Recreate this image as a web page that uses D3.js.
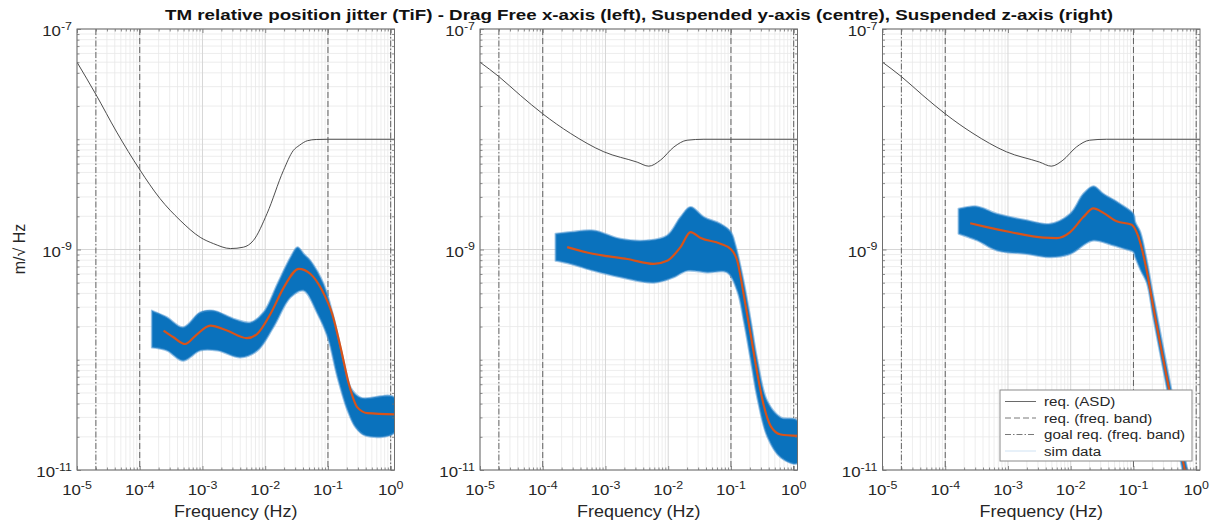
<!DOCTYPE html>
<html>
<head>
<meta charset="utf-8">
<script src="https://cdn.jsdelivr.net/npm/d3@7"></script>
<style>
  body { margin: 0; background: #fff; }
  svg { display: block; font-family: "Liberation Sans", Arial, sans-serif; }
</style>
</head>
<body>
<svg id="chart" width="1214" height="521"></svg>
<script>
// --- data (frequency in Hz, ASD in m/sqrt(Hz)) ---
const xTickExps = [-5, -4, -3, -2, -1, 0];
const yTickExps = [-11, -9, -7];
const reqBandFreqs = [1e-4, 1e-1];
const goalBandFreqs = [2e-5, 1];
const legendLabels = ['req. (ASD)', 'req. (freq. band)', 'goal req. (freq. band)', 'sim data'];

// requirement, drag free axis (left)
const reqDfFreq = [1e-5, 2e-5, 4.3e-5, 1e-4, 2.1e-4, 4.4e-4, 9.2e-4, 1.5e-3, 2.8e-3, 4.5e-3, 6.5e-3, 1.07e-2, 1.95e-2, 2.8e-2, 3.5e-2, 4.7e-2, 6.5e-2, 0.1, 1.15];
const reqDfAsd  = [5.0e-8, 2.55e-8, 1.16e-8, 5.3e-9, 2.9e-9, 1.84e-9, 1.29e-9, 1.13e-9, 1.02e-9, 1.05e-9, 1.21e-9, 2.12e-9, 5.2e-9, 7.9e-9, 8.8e-9, 9.7e-9, 9.95e-9, 1e-8, 1e-8];
// requirement, suspended axes (centre, right)
const reqSuspFreq = [1e-5, 2e-5, 4.4e-5, 1e-4, 2.77e-4, 9.4e-4, 3.2e-3, 4.9e-3, 7.5e-3, 1.23e-2, 2.0e-2, 3.7e-2, 1.15];
const reqSuspAsd  = [5.0e-8, 3.7e-8, 2.5e-8, 1.7e-8, 1.13e-8, 7.7e-9, 6.2e-9, 5.7e-9, 6.45e-9, 8.5e-9, 9.8e-9, 1e-8, 1e-8];

// x-axis sim: mean and envelope of the runs
const xMeanFreq  = [2.4e-4, 3.45e-4, 5.3e-4, 7.7e-4, 1.33e-3, 2.46e-3, 5.1e-3, 7.4e-3, 1.21e-2, 1.98e-2, 3.43e-2, 5.27e-2, 8.1e-2, 0.117, 0.159, 0.216, 0.294, 0.425, 1.15];
const xMeanAsd   = [1.84e-10, 1.6e-10, 1.39e-10, 1.65e-10, 2.04e-10, 1.84e-10, 1.57e-10, 1.71e-10, 2.6e-10, 4.54e-10, 6.68e-10, 6.0e-10, 4.24e-10, 2.6e-10, 1.29e-10, 6.0e-11, 3.7e-11, 3.28e-11, 3.2e-11];
const xUpperFreq = [1.56e-4, 2.7e-4, 4.9e-4, 9.2e-4, 1.49e-3, 3.1e-3, 5.8e-3, 9.4e-3, 1.57e-2, 2.53e-2, 3.27e-2, 4.2e-2, 5.27e-2, 8.5e-2, 0.123, 0.177, 0.23, 0.332, 1.15];
const xUpperAsd  = [2.79e-10, 2.43e-10, 1.97e-10, 2.69e-10, 2.79e-10, 2.36e-10, 2.18e-10, 2.69e-10, 4.9e-10, 8.5e-10, 1.05e-9, 9.0e-10, 7.9e-10, 4.9e-10, 2.43e-10, 9.8e-11, 5.6e-11, 4.54e-11, 4.54e-11];
const xLowerFreq = [1.56e-4, 2.7e-4, 4.9e-4, 9.2e-4, 1.72e-3, 4.0e-3, 7.5e-3, 1.35e-2, 2.53e-2, 4.07e-2, 6.8e-2, 9.9e-2, 0.142, 0.206, 0.276, 0.4, 1.15];
const xLowerAsd  = [1.29e-10, 1.21e-10, 9.8e-11, 1.21e-10, 1.21e-10, 1.05e-10, 1.21e-10, 1.97e-10, 3.68e-10, 4.24e-10, 2.62e-10, 1.6e-10, 6.9e-11, 3.44e-11, 2.43e-11, 2.04e-11, 2.18e-11];

// y-axis sim
const yMeanFreq  = [2.45e-4, 5.1e-4, 9.4e-4, 2.22e-3, 5.9e-3, 9.6e-3, 1.57e-2, 2.27e-2, 3.3e-2, 6.8e-2, 9.9e-2, 0.126, 0.161, 0.206, 0.263, 0.335, 0.43, 0.62, 1.15];
const yMeanAsd   = [1.05e-9, 9.4e-10, 8.8e-10, 8.2e-10, 7.4e-10, 7.9e-10, 1.05e-9, 1.44e-9, 1.27e-9, 1.13e-9, 1.01e-9, 7.9e-10, 3.8e-10, 1.7e-10, 7.5e-11, 3.8e-11, 2.5e-11, 2.1e-11, 2.04e-11];
const yUpperFreq = [1.6e-4, 2.77e-4, 6.5e-4, 1.73e-3, 4.6e-3, 9.6e-3, 1.57e-2, 2.27e-2, 3.7e-2, 6.8e-2, 9.9e-2, 0.118, 0.161, 0.206, 0.263, 0.38, 0.62, 1.15];
const yUpperAsd  = [1.39e-9, 1.44e-9, 1.49e-9, 1.25e-9, 1.21e-9, 1.34e-9, 1.97e-9, 2.43e-9, 1.97e-9, 1.71e-9, 1.45e-9, 1.1e-9, 5.0e-10, 2.3e-10, 1.0e-10, 4.2e-11, 3.0e-11, 2.8e-11];
const yLowerFreq = [1.6e-4, 2.77e-4, 6.5e-4, 1.73e-3, 5.9e-3, 1.23e-2, 2.0e-2, 4.2e-2, 8.7e-2, 0.126, 0.161, 0.206, 0.263, 0.38, 0.62, 1.15];
const yLowerAsd  = [7.9e-10, 7.4e-10, 6.4e-10, 5.6e-10, 5.0e-10, 5.6e-10, 6.4e-10, 6.2e-10, 6.2e-10, 4.2e-10, 2.2e-10, 1.0e-10, 4.5e-11, 2.0e-11, 1.3e-11, 1.15e-11];

// z-axis sim
const zMeanFreq  = [2.5e-4, 4.07e-4, 1.08e-3, 3.67e-3, 6.0e-3, 9.8e-3, 1.59e-2, 2.3e-2, 3.32e-2, 5.4e-2, 9.4e-2, 0.1, 0.12, 0.163, 0.207, 0.383, 0.624, 1.15];
const zMeanAsd   = [1.73e-9, 1.62e-9, 1.44e-9, 1.28e-9, 1.27e-9, 1.44e-9, 1.97e-9, 2.36e-9, 2.15e-9, 1.8e-9, 1.68e-9, 1.62e-9, 1.3e-9, 6.4e-10, 3.0e-10, 4.9e-11, 1.16e-11, 2.1e-12];
const zUpperFreq = [1.63e-4, 3.2e-4, 6.65e-4, 2.0e-3, 4.7e-3, 9.8e-3, 1.59e-2, 2.3e-2, 3.32e-2, 6.1e-2, 0.1, 0.107, 0.128, 0.163, 0.207, 0.383, 0.624, 1.15];
const zUpperAsd  = [2.34e-9, 2.46e-9, 2.11e-9, 1.84e-9, 1.71e-9, 2.11e-9, 3.2e-9, 3.75e-9, 3.2e-9, 2.6e-9, 2.1e-9, 1.77e-9, 1.45e-9, 8e-10, 3.8e-10, 6.2e-11, 1.5e-11, 2.8e-12];
const zLowerFreq = [1.63e-4, 3.2e-4, 6.65e-4, 2.0e-3, 4.7e-3, 9.8e-3, 2.2e-2, 4.5e-2, 7.8e-2, 0.1, 0.107, 0.13, 0.163, 0.207, 0.383, 0.624, 1.15];
const zLowerAsd  = [1.39e-9, 1.21e-9, 9.8e-10, 9.1e-10, 8.5e-10, 9.1e-10, 1.2e-9, 1.1e-9, 1.0e-9, 9.5e-10, 8.5e-10, 6.5e-10, 5e-10, 2.4e-10, 3.9e-11, 9e-12, 1.6e-12];

// --- layout ---
const panelLefts = [77, 480, 882.5];
const panelW = 317.5;
const plotTop = 29, plotBottom = 470;
const xMin = 1e-5, xMax = 1.15;
const SX = 1.12; // the picture is a little wider than tall
const axisColor = '#6e6e6e';
const textColor = '#262626';

const zip = (a, b) => a.map((v, i) => [v, b[i]]);

const panels = [
  { req: zip(reqDfFreq, reqDfAsd), mean: zip(xMeanFreq, xMeanAsd), upper: zip(xUpperFreq, xUpperAsd), lower: zip(xLowerFreq, xLowerAsd) },
  { req: zip(reqSuspFreq, reqSuspAsd), mean: zip(yMeanFreq, yMeanAsd), upper: zip(yUpperFreq, yUpperAsd), lower: zip(yLowerFreq, yLowerAsd) },
  { req: zip(reqSuspFreq, reqSuspAsd), mean: zip(zMeanFreq, zMeanAsd), upper: zip(zUpperFreq, zUpperAsd), lower: zip(zLowerFreq, zLowerAsd) }
];

const svg = d3.select('#chart');
const y = d3.scaleLog().domain([1e-11, 1e-7]).range([plotBottom, plotTop]);

// minor values 2..9 x 10^e
function minorVals(eLo, eHi, max) {
  const out = [];
  for (let e = eLo; e <= eHi; e++) for (let k = 2; k <= 9; k++) if (k * 10 ** e <= max) out.push(k * 10 ** e);
  return out;
}
const xMajor = xTickExps.map(e => 10 ** e);
const xMinor = minorVals(-5, 0, xMax);
const yMajor = yTickExps.map(e => 10 ** e);
const yMinor = minorVals(-11, -8, 1e-7).concat([1e-10, 1e-8]);

// 10^e label, stretched like the picture
function powLabel(g, px, py, e, anchor, size) {
  const t = g.append('g')
    .attr('transform', `translate(${px},${py}) scale(${SX},1)`)
    .append('text')
    .attr('text-anchor', anchor)
    .attr('font-size', size)
    .attr('fill', textColor);
  t.append('tspan').text('10');
  t.append('tspan').attr('dy', -6.5).attr('font-size', size * 0.74).text(e < 0 ? '-' + (-e) : e);
}

function stretchedText(g, px, py, str, size, anchor) {
  return g.append('g')
    .attr('transform', `translate(${px},${py}) scale(${SX},1)`)
    .append('text')
    .attr('text-anchor', anchor || 'middle')
    .attr('font-size', size)
    .attr('fill', textColor)
    .text(str);
}

panels.forEach((p, i) => {
  const left = panelLefts[i];
  const x = d3.scaleLog().domain([xMin, xMax]).range([left, left + panelW]);
  const g = svg.append('g');

  g.append('clipPath').attr('id', 'clip' + i)
    .append('rect').attr('x', left).attr('y', plotTop).attr('width', panelW).attr('height', plotBottom - plotTop);

  // grid
  const grid = g.append('g');
  grid.selectAll('.xmin').data(xMinor).join('line')
    .attr('x1', d => x(d)).attr('x2', d => x(d)).attr('y1', plotTop).attr('y2', plotBottom)
    .attr('stroke', '#e9e9e9').attr('stroke-width', 0.8);
  grid.selectAll('.ymin').data(yMinor).join('line')
    .attr('x1', left).attr('x2', left + panelW).attr('y1', d => y(d)).attr('y2', d => y(d))
    .attr('stroke', '#e9e9e9').attr('stroke-width', 0.8);
  grid.selectAll('.xmaj').data(xMajor).join('line')
    .attr('x1', d => x(d)).attr('x2', d => x(d)).attr('y1', plotTop).attr('y2', plotBottom)
    .attr('stroke', '#d6d6d6').attr('stroke-width', 1);
  grid.selectAll('.ymaj').data(yMajor).join('line')
    .attr('x1', left).attr('x2', left + panelW).attr('y1', d => y(d)).attr('y2', d => y(d))
    .attr('stroke', '#d6d6d6').attr('stroke-width', 1);

  const plot = g.append('g').attr('clip-path', `url(#clip${i})`);

  // requirement ASD
  const line = d3.line().x(d => x(d[0])).y(d => y(d[1])).curve(d3.curveMonotoneX);
  plot.append('path').datum(p.req).attr('d', line)
    .attr('fill', 'none').attr('stroke', '#3a3a3a').attr('stroke-width', 0.9);

  // frequency band limits
  plot.selectAll('.req').data(reqBandFreqs).join('line')
    .attr('x1', d => x(d)).attr('x2', d => x(d)).attr('y1', plotTop).attr('y2', plotBottom)
    .attr('stroke', '#555').attr('stroke-width', 0.9).attr('stroke-dasharray', '6,3');
  plot.selectAll('.goal').data(goalBandFreqs).join('line')
    .attr('x1', d => x(d)).attr('x2', d => x(d)).attr('y1', plotTop).attr('y2', plotBottom)
    .attr('stroke', '#555').attr('stroke-width', 0.9).attr('stroke-dasharray', '6,2,1.5,2');

  // sim data envelope
  const bandPts = p.upper.concat(p.lower.slice().reverse());
  const band = d3.line().x(d => x(d[0])).y(d => y(d[1])).curve(d3.curveCatmullRom);
  plot.append('path').datum(bandPts).attr('d', d => band(d) + 'Z')
    .attr('fill', '#0a72bd').attr('stroke', '#4f97d3').attr('stroke-width', 2)
    .attr('stroke-opacity', 0.55).attr('stroke-linejoin', 'round');

  // mean of runs
  plot.append('path').datum(p.mean).attr('d', line)
    .attr('fill', 'none').attr('stroke', '#d95319').attr('stroke-width', 2.2);

  // ticks, MATLAB style (inside, all four sides)
  const tickAxis = (axisFn, vals, len, tr) => {
    g.append('g').attr('transform', tr)
      .call(axisFn.tickValues(vals).tickSize(len).tickFormat(''))
      .call(s => s.select('.domain').remove())
      .call(s => s.selectAll('line').attr('stroke', axisColor).attr('stroke-width', 0.8));
  };
  tickAxis(d3.axisBottom(x), xMajor, -4, `translate(0,${plotBottom})`);
  tickAxis(d3.axisBottom(x), xMinor, -2.5, `translate(0,${plotBottom})`);
  tickAxis(d3.axisTop(x), xMajor, -4, `translate(0,${plotTop})`);
  tickAxis(d3.axisTop(x), xMinor, -2.5, `translate(0,${plotTop})`);
  tickAxis(d3.axisLeft(y), yMajor, -4, `translate(${left},0)`);
  tickAxis(d3.axisLeft(y), yMinor, -2.5, `translate(${left},0)`);
  tickAxis(d3.axisRight(y), yMajor, -4, `translate(${left + panelW},0)`);
  tickAxis(d3.axisRight(y), yMinor, -2.5, `translate(${left + panelW},0)`);

  // box
  g.append('rect').attr('x', left).attr('y', plotTop).attr('width', panelW).attr('height', plotBottom - plotTop)
    .attr('fill', 'none').attr('stroke', axisColor).attr('stroke-width', 1);

  // tick labels
  xTickExps.forEach(e => powLabel(g, x(10 ** e), 495, e, 'middle', 15));
  yTickExps.forEach(e => powLabel(g, left - 5, y(10 ** e) + 7, e, 'end', 15));

  stretchedText(g, left + panelW / 2, 517, 'Frequency (Hz)', 16);

  // legend in the last panel
  if (i === 2) {
    const lw = 192, lh = 71;
    const lx = left + panelW - 8 - lw, ly = plotBottom - 9 - lh;
    const lg = g.append('g').attr('transform', `translate(${lx},${ly})`);
    lg.append('rect').attr('width', lw).attr('height', lh)
      .attr('fill', '#fff').attr('stroke', '#8a8a8a').attr('stroke-width', 1);
    const styles = [
      { stroke: '#6a6a6a', dash: null, w: 1 },
      { stroke: '#6a6a6a', dash: '6,3', w: 0.9 },
      { stroke: '#6a6a6a', dash: '6,2,1.5,2', w: 0.9 },
      { stroke: '#cfe2f3', dash: null, w: 1 }
    ];
    legendLabels.forEach((lab, k) => {
      const cy = 11.5 + k * 16.5;
      lg.append('line').attr('x1', 5).attr('x2', 36).attr('y1', cy).attr('y2', cy)
        .attr('stroke', styles[k].stroke).attr('stroke-width', styles[k].w)
        .attr('stroke-dasharray', styles[k].dash);
      stretchedText(lg, 44, cy + 4.5, lab, 13.5, 'start');
    });
  }
});

// y-axis label
svg.append('text')
  .attr('transform', 'translate(25,249) rotate(-90)')
  .attr('text-anchor', 'middle')
  .attr('font-size', 16)
  .attr('fill', textColor)
  .text('m/\u221A Hz');

// title
svg.append('text')
  .attr('x', 639).attr('y', 20)
  .attr('text-anchor', 'middle')
  .attr('font-size', 15)
  .attr('font-weight', 'bold')
  .attr('fill', '#111')
  .attr('textLength', 948)
  .attr('lengthAdjust', 'spacingAndGlyphs')
  .text('TM relative position jitter (TiF) - Drag Free x-axis (left), Suspended y-axis (centre), Suspended z-axis (right)');
</script>
</body>
</html>
